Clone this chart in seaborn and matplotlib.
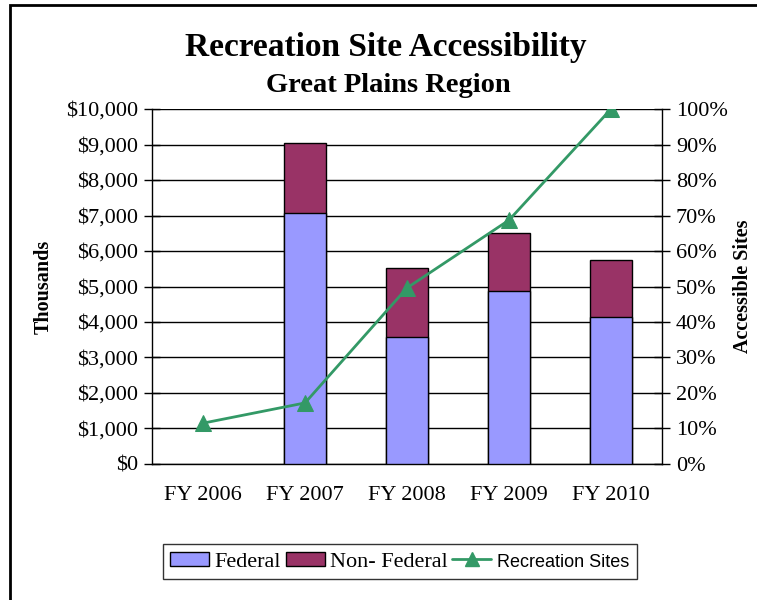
"""
Recreation site accessibility chart for the Great Plains Region
"""

import numpy as np
import pandas as pd
import matplotlib
matplotlib.use("Agg")
import matplotlib.pyplot as plt
import matplotlib.ticker as mticker
from matplotlib.patches import Patch, Rectangle
from matplotlib.lines import Line2D
import seaborn as sns

# Data (FY 2006 has no funding bars)
years = ["FY 2006", "FY 2007", "FY 2008", "FY 2009", "FY 2010"]
federal = [np.nan, 7070, 3580, 4880, 4140]          # thousands of dollars
non_federal = [np.nan, 1980, 1940, 1630, 1610]      # thousands of dollars
sites_pct = [11.5, 17.2, 49.6, 68.7, 100.0]         # accessible sites, percent

FED_COLOR = "#9999ff"
NONFED_COLOR = "#993366"
LINE_COLOR = "#339966"
FS = 16


def main():
    sns.set_style("white")
    plt.rcParams["font.family"] = ["Liberation Serif", "DejaVu Serif"]
    plt.rcParams["text.color"] = "black"
    plt.rcParams["axes.labelcolor"] = "black"
    plt.rcParams["xtick.color"] = "black"
    plt.rcParams["ytick.color"] = "black"

    df = pd.DataFrame({
        "year": years,
        "federal": federal,
        "total": np.array(federal) + np.array(non_federal),
        "sites": sites_pct,
    })

    fig = plt.figure(figsize=(7.57, 6.0), dpi=100)
    ax = fig.add_axes([0.2008, 0.2267, 0.6737, 0.5916])

    # Stacked bars: total in non-federal colour, federal drawn over it
    sns.barplot(data=df, x="year", y="total", order=years, color=NONFED_COLOR,
                width=0.42, edgecolor="black", linewidth=1.0, saturation=1,
                ax=ax, zorder=3)
    sns.barplot(data=df, x="year", y="federal", order=years, color=FED_COLOR,
                width=0.42, edgecolor="black", linewidth=1.0, saturation=1,
                ax=ax, zorder=3)

    ax.set_xlim(-0.5, 4.5)
    ax.set_ylim(0, 10000)
    ax.set_yticks(np.arange(0, 10001, 1000))
    ax.yaxis.set_major_formatter(mticker.FuncFormatter(lambda v, p: f"${v:,.0f}"))
    ax.set_xticks(np.arange(-0.5, 4.6, 1.0))
    ax.set_xticklabels([])
    ax.set_xticks(np.arange(5), minor=True)
    ax.set_xticklabels(years, minor=True)
    ax.tick_params(axis="x", which="major", direction="inout", length=12,
                   width=1, color="black")
    ax.tick_params(axis="x", which="minor", length=0, pad=16, labelsize=FS)
    ax.tick_params(axis="y", direction="inout", length=12, width=1,
                   color="black", labelsize=FS, pad=4)
    ax.yaxis.grid(True, color="black", linewidth=1.0, zorder=0)
    ax.set_axisbelow(True)
    ax.set_xlabel("")
    ax.set_ylabel("Thousands", fontsize=14.5, fontweight="bold", labelpad=9)
    for side in ["left", "right", "bottom"]:
        ax.spines[side].set_color("black")
        ax.spines[side].set_linewidth(1.0)
    ax.spines["top"].set_visible(False)

    # Accessible sites on the secondary axis
    ax2 = ax.twinx()
    sns.lineplot(x=np.arange(len(years)), y=df["sites"], ax=ax2, color=LINE_COLOR,
                 linewidth=2, marker="^", markersize=12, markeredgecolor=LINE_COLOR,
                 zorder=5)
    ax2.set_ylim(0, 100)
    ax2.set_yticks(np.arange(0, 101, 10))
    ax2.yaxis.set_major_formatter(mticker.FuncFormatter(lambda v, p: f"{v:.0f}%"))
    ax2.tick_params(axis="y", direction="inout", length=12, width=1,
                    color="black", labelsize=FS, pad=4)
    ax2.set_ylabel("Accessible Sites", fontsize=14.5, fontweight="bold", labelpad=4)
    for s in ax2.spines.values():
        s.set_visible(False)
    ax.set_xlim(-0.5, 4.5)

    # Titles
    fig.text(0.51, 0.921, "Recreation Site Accessibility", ha="center", va="center",
             fontsize=24, fontweight="bold")
    fig.text(0.513, 0.857, "Great Plains Region", ha="center", va="center",
             fontsize=20.5, fontweight="bold")

    # Legend
    handles = [
        Patch(facecolor=FED_COLOR, edgecolor="black", label="Federal"),
        Patch(facecolor=NONFED_COLOR, edgecolor="black", label="Non- Federal"),
        Line2D([0], [0], color=LINE_COLOR, linewidth=2, marker="^", markersize=10,
               label="Recreation Sites"),
    ]
    leg = fig.legend(handles=handles, loc="center", bbox_to_anchor=(0.528, 0.064),
                     ncol=3, frameon=True, fontsize=FS, handlelength=1.75,
                     handleheight=0.6, handletextpad=0.25, columnspacing=0.2,
                     borderpad=0.35, fancybox=False, edgecolor="black")
    leg.get_frame().set_linewidth(1.0)
    leg.get_texts()[2].set_fontfamily(["Liberation Sans", "DejaVu Sans"])
    leg.get_texts()[2].set_fontsize(13)

    # Outer chart border (right and bottom are cropped in the reference)
    fig.patches.append(Rectangle((10 / 757, -0.1), 1.2, 1.1 - 5 / 600,
                                 transform=fig.transFigure, fill=False,
                                 edgecolor="black", linewidth=2))

    fig.savefig("out.png", dpi=100)


if __name__ == "__main__":
    main()
